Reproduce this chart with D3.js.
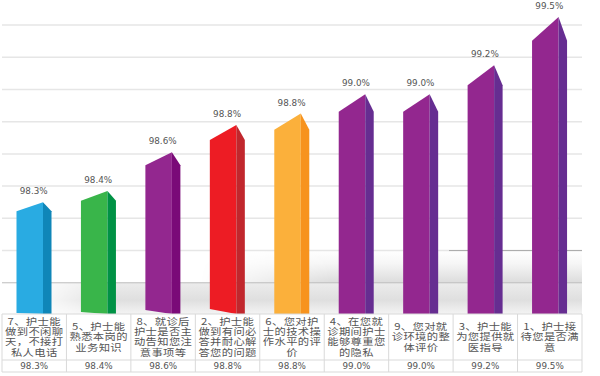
<!DOCTYPE html>
<html lang="zh">
<head>
    <meta charset="UTF-8">
    <title>满意度</title>
    <style>
        html, body { margin: 0; padding: 0; background: #fff; }
        svg { display: block; }
        text { font-family: "Noto Sans CJK SC", "DejaVu Sans", sans-serif; fill: #555; }
        text.num { font-family: "DejaVu Sans", sans-serif; font-size: 8.8px; }
    </style>
</head>
<body>
    <div id="graphic"></div>

    <script src="https://cdn.jsdelivr.net/npm/d3@7"></script>
    <script>
        var width = 600;
        var height = 376;

        var categories = [
            ['7、护士能', '做到不闲聊', '天，不接打', '私人电话'],
            ['5、护士能', '熟悉本岗的', '业务知识'],
            ['8、就诊后', '护士是否主', '动告知您注', '意事项等'],
            ['2、护士能', '做到有问必', '答并耐心解', '答您的问题'],
            ['6、您对护', '士的技术操', '作水平的评', '价'],
            ['4、在您就', '诊期间护士', '能够尊重您', '的隐私'],
            ['9、您对就', '诊环境的整', '体评价'],
            ['3、护士能', '为您提供就', '医指导'],
            ['1、护士接', '待您是否满', '意']
        ];
        var values = [98.30, 98.37, 98.61, 98.78, 98.85, 98.97, 98.97, 99.15, 99.45];
        var valueLabels = ['98.3%', '98.4%', '98.6%', '98.8%', '98.8%', '99.0%', '99.0%', '99.2%', '99.5%'];
        var frontColors = ['#29abe2', '#39b54a', '#93278f', '#ed1c24', '#fbb03b', '#93278f', '#93278f', '#93278f', '#93278f'];
        var sideColors = ['#0f86b8', '#009245', '#7a0a78', '#c1272d', '#f7931e', '#662d91', '#662d91', '#662d91', '#662d91'];
        var gridValues = [97.8, 98.0, 98.2, 98.4, 98.6, 98.8, 99.0, 99.2, 99.4];

        var left = 2, right = 582, base = 314;
        var svg = d3.select('#graphic').append('svg')
            .attr('width', width)
            .attr('height', height);

        var x = d3.scaleBand().domain(d3.range(values.length)).range([left, right]);
        var y = d3.scaleLinear().domain([97.6, 99.4]).range([315, 25]);

        var defs = svg.append('defs');

        function vGradient(id, stops) {
            var g = defs.append('linearGradient').attr('id', id).attr('x1', 0).attr('y1', 0).attr('x2', 0).attr('y2', 1);
            stops.forEach(function(s) {
                g.append('stop').attr('offset', s[0]).attr('stop-color', s[1]);
            });
        }
        // the shading fades out towards the left, so each band gets a mask
        function hMask(id, from, to) {
            var g = defs.append('linearGradient').attr('id', id + 'Fade')
                .attr('gradientUnits', 'userSpaceOnUse')
                .attr('x1', from).attr('y1', 0).attr('x2', to).attr('y2', 0);
            g.append('stop').attr('offset', 0).attr('stop-color', '#000');
            g.append('stop').attr('offset', 1).attr('stop-color', '#fff');
            defs.append('mask').attr('id', id)
                .attr('maskUnits', 'userSpaceOnUse')
                .attr('x', 0).attr('y', 0).attr('width', width).attr('height', height)
                .append('rect').attr('width', width).attr('height', height)
                .attr('fill', 'url(#' + id + 'Fade)');
        }
        vGradient('floorLow', [['0%', '#ececec'], ['55%', '#dfdfdf'], ['100%', '#f4f4f4']]);
        vGradient('floorHigh', [['0%', '#fff'], ['40%', '#f6f6f6'], ['100%', '#dcdcdc']]);
        hMask('lowMask', 30, 110);
        hMask('highMask', 200, 330);

        svg.append('rect')
            .attr('x', left).attr('y', y(97.8))
            .attr('width', right - left).attr('height', base - y(97.8))
            .attr('fill', 'url(#floorLow)').attr('mask', 'url(#lowMask)');
        svg.append('rect')
            .attr('x', left).attr('y', y(98.0))
            .attr('width', right - left).attr('height', y(97.8) - y(98.0))
            .attr('fill', 'url(#floorHigh)').attr('mask', 'url(#highMask)');

        svg.selectAll('line.grid')
            .data(gridValues)
            .join('line')
            .attr('class', 'grid')
            .attr('x1', left).attr('x2', right)
            .attr('y1', function(d) { return y(d); })
            .attr('y2', function(d) { return y(d); })
            .attr('stroke', function(d) { return d < 97.9 ? '#bdbdbd' : '#e6e6e6'; })
            .attr('stroke-width', function(d) { return d < 97.9 ? 1 : 1.5; });
        // the 98.0 line turns dark on the right hand side
        svg.append('line')
            .attr('x1', 449).attr('x2', right)
            .attr('y1', y(98.0)).attr('y2', y(98.0))
            .attr('stroke', '#aaa');

        // bars: a front face and a narrower side face meeting at a peak
        var frontW = 26.5, sideW = 8.5, pad = 14.5;
        var shoulder = function(v) { return base + 0.92 * (y(v) - base); };
        var frontLift = [1, 2, 4, 5, 0, 0, 0, 0, 0];

        var bars = svg.selectAll('g.bar')
            .data(values)
            .join('g')
            .attr('class', 'bar')
            .attr('transform', function(d, i) { return 'translate(' + (x(i) + pad) + ',0)'; });

        bars.append('path')
            .attr('fill', function(d, i) { return frontColors[i]; })
            .attr('d', function(d, i) {
                return d3.line()([[0, shoulder(d)], [frontW, y(d)], [frontW, base], [0, base - frontLift[i]]]);
            });
        bars.append('path')
            .attr('fill', function(d, i) { return sideColors[i]; })
            .attr('d', function(d) {
                return d3.line()([[frontW, y(d)], [frontW + sideW, shoulder(d)], [frontW + sideW, base], [frontW, base]]);
            });
        bars.append('text')
            .attr('class', 'num')
            .attr('x', frontW / 2 + 4)
            .attr('y', function(d) { return y(d) - 8; })
            .attr('text-anchor', 'middle')
            .text(function(d, i) { return valueLabels[i]; });

        // data table under the bars
        var rowLine = 360, tableBottom = 372;
        var tableColor = '#d9d9d9';
        svg.selectAll('line.row')
            .data([base, rowLine, tableBottom])
            .join('line')
            .attr('class', 'row')
            .attr('x1', left).attr('x2', right)
            .attr('y1', function(d) { return d; }).attr('y2', function(d) { return d; })
            .attr('stroke', tableColor);
        svg.selectAll('line.col')
            .data(d3.range(values.length + 1))
            .join('line')
            .attr('class', 'col')
            .attr('x1', function(d) { return left + d * x.bandwidth(); })
            .attr('x2', function(d) { return left + d * x.bandwidth(); })
            .attr('y1', base).attr('y2', tableBottom)
            .attr('stroke', tableColor);

        var lineH = 10.4;
        var cells = svg.selectAll('g.cell')
            .data(categories)
            .join('g')
            .attr('class', 'cell')
            .attr('transform', function(d, i) { return 'translate(' + (x(i) + x.bandwidth() / 2) + ',0)'; });
        cells.selectAll('text.cat')
            .data(function(d) { return d; })
            .join('text')
            .attr('class', 'cat')
            .attr('text-anchor', 'middle')
            .attr('font-size', 9.6)
            .attr('letter-spacing', 0.3)
            .attr('transform', function(d, j) {
                var n = d3.select(this.parentNode).datum().length;
                var ty = 336.5 - (n - 1) * lineH / 2 + j * lineH + 3.6;
                return 'translate(0,' + ty + ') scale(1.18,1)';
            })
            .text(function(d) { return d; });
        cells.append('text')
            .attr('class', 'num')
            .attr('text-anchor', 'middle')
            .attr('y', 369)
            .text(function(d, i) { return valueLabels[i]; });
    </script>
</body>
</html>
